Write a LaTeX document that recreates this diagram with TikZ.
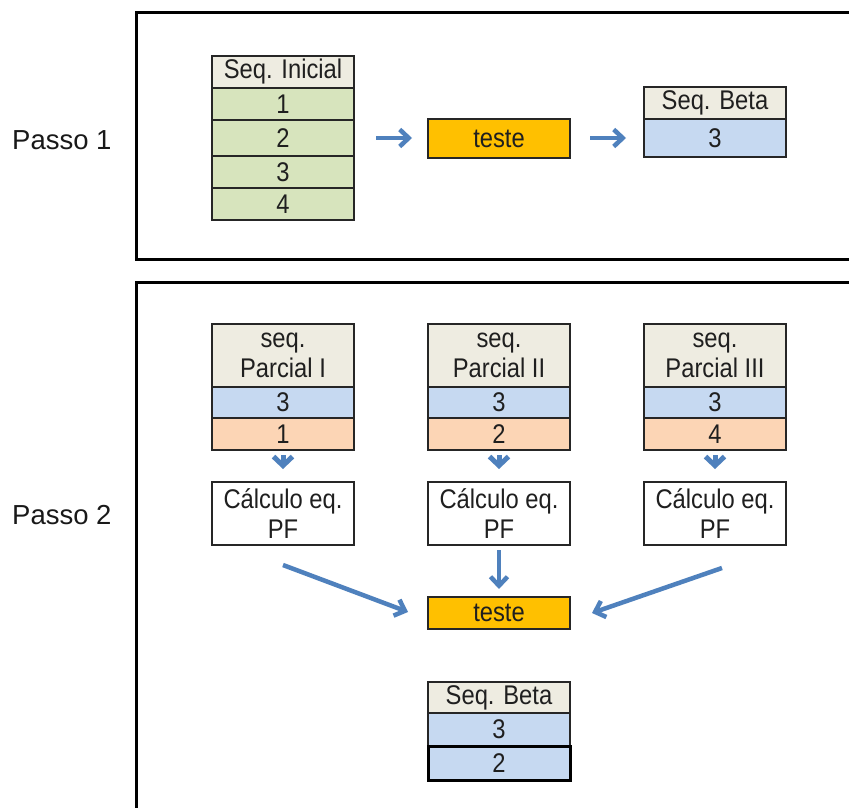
\documentclass[tikz,border=0pt]{standalone}
\usepackage{fontspec}
\setmainfont{Liberation Sans}[FakeStretch=0.88]
\newfontfamily\passofont{Liberation Sans}
\usetikzlibrary{arrows.meta,calc}
\definecolor{hdr}{HTML}{EEECE1}
\definecolor{grn}{HTML}{D7E4BD}
\definecolor{blu}{HTML}{C6D9F1}
\definecolor{pch}{HTML}{FCD5B5}
\definecolor{org}{HTML}{FFC000}
\definecolor{arrowblue}{HTML}{4F81BD}
\begin{document}
\begin{tikzpicture}[x=1pt,y=-1pt,
  cell/.style={draw=black!85, line width=1.2pt, inner sep=0pt, outer sep=0pt,
    minimum width=142pt, font=\fontsize{27}{30}\selectfont, align=center, text=black!88},
  frame/.style={draw=black, line width=3pt},
  arr/.style={draw=arrowblue, line width=4.5pt, -{Straight Barb[length=9pt,width=17pt]}},
  passo/.style={anchor=west, font=\passofont\fontsize{27.5}{32}\selectfont, text=black!90, inner sep=0pt}]
\useasboundingbox (0,0) rectangle (849,808);
\clip (0,0) rectangle (849,808);
\fill[white] (0,0) rectangle (849,808);
% frames
\draw[frame] (136,13) rectangle (856,259);
\draw[frame] (136,282) rectangle (856,820);
% labels
\node[passo] (passo1) at (12,140) {Passo 1};
\node[passo] (passo2) at (12,515) {Passo 2};
% Step 1
\node[cell, fill=hdr, minimum height=32pt] (iniH) at (283,72) {Seq. Inicial};
\node[cell, fill=grn, minimum height=32pt] (ini1) at (283,104) {1};
\node[cell, fill=grn, minimum height=36pt] (ini2) at (283,138) {2};
\node[cell, fill=grn, minimum height=32pt] (ini3) at (283,172) {3};
\node[cell, fill=grn, minimum height=32pt] (ini4) at (283,204) {4};
\node[cell, fill=org, minimum height=39pt] (teste1) at (499,138.5) {teste};
\node[cell, fill=hdr, minimum height=32pt] (betaH) at (715,103) {Seq. Beta};
\node[cell, fill=blu, minimum height=38pt] (beta1) at (715,138) {3};
\draw[arr, shorten <=22pt, shorten >=16pt] (ini2.east) -- (ini2.east -| teste1.west);
\draw[arr, shorten <=20pt, shorten >=18pt] (ini2.east -| teste1.east) -- (ini2.east -| beta1.west);
% Step 2
\foreach \n/\x/\r/\b in {1/283/I/1, 2/499/II/2, 3/715/III/4}{
  \node[cell, fill=hdr, minimum height=63pt] (pH\n) at (\x,355.5) {seq.\\Parcial \r};
  \node[cell, fill=blu, minimum height=31pt] (pA\n) at (\x,402.5) {3};
  \node[cell, fill=pch, minimum height=32pt] (pB\n) at (\x,434) {\b};
  \node[cell, fill=white, minimum height=63pt] (c\n) at (\x,513.5) {Cálculo eq.\\PF};
  \draw[arr, line width=5pt, -{Straight Barb[length=9pt,width=19pt]}, shorten <=5pt, shorten >=13pt] (pB\n.south) -- (c\n.north);
}
\node[cell, fill=org, minimum height=32pt] (teste2) at (499,613) {teste};
\draw[arr, shorten <=5pt, shorten >=8pt] (c2.south) -- (teste2.north);
\draw[arr] ($(c1.south)+(0,20)$) -- ($(teste2.west)+(-20,-1)$);
\draw[arr] ($(c3.south)+(7,23)$) -- ($(teste2.east)+(22,0)$);
\node[cell, fill=hdr, minimum height=31pt] (beta2H) at (499,697.5) {Seq. Beta};
\node[cell, fill=blu, minimum height=33pt] (beta2a) at (499,729.5) {3};
\node[cell, fill=blu, minimum height=34pt, draw=black, line width=3pt] (beta2b) at (499,763) {2};
\end{tikzpicture}
\end{document}
